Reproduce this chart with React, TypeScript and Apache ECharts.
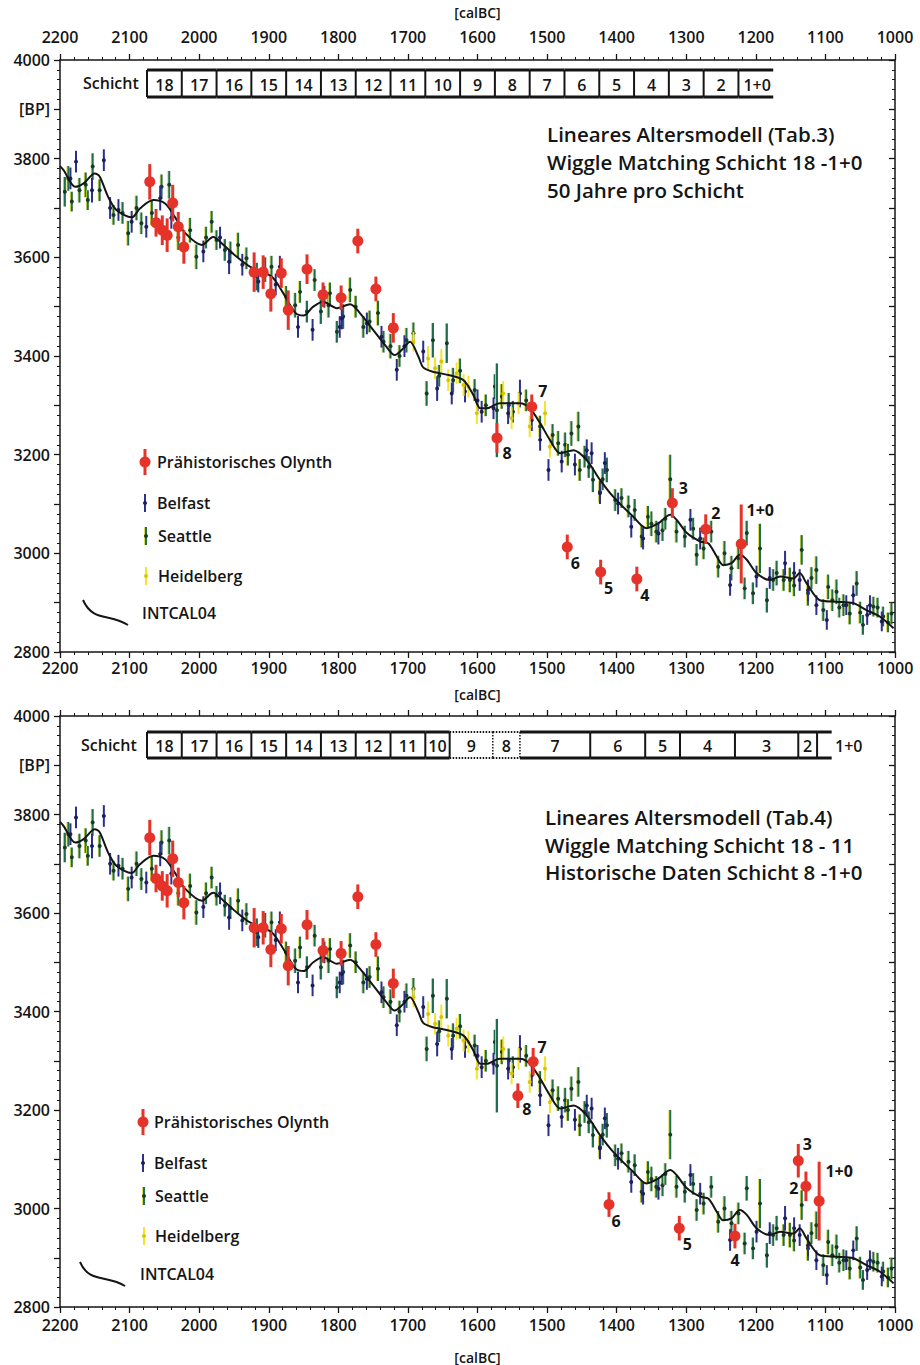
import React, { useEffect, useRef } from "react";
import * as echarts from "echarts";

// ---------------- DATA ----------------
const X_MIN = 1000;
const X_MAX = 2200;
const X_STEP = 100;
const Y_MIN = 2800;
const Y_MAX = 4000;
const Y_STEP = 100;
const Y_UNIT_AT = 3900; // where "[BP]" is written on the axis

const AXIS_NAME_X = "[calBC]";
const AXIS_NAME_Y = "[BP]";

// INTCAL04 calibration curve [calBC, BP]
const INTCAL04: [number, number][] = [
  [2200, 3785], [2195, 3777], [2178, 3743], [2166, 3750], [2150, 3770], [2143, 3764],
  [2131, 3723], [2119, 3696], [2097, 3681], [2085, 3699], [2066, 3716], [2049, 3709],
  [2035, 3682], [2020, 3649], [1996, 3625], [1980, 3641], [1965, 3625], [1946, 3601],
  [1927, 3581], [1896, 3561], [1879, 3527], [1862, 3488], [1850, 3482], [1836, 3500],
  [1822, 3510], [1802, 3497], [1783, 3505], [1769, 3487], [1750, 3453], [1731, 3419],
  [1719, 3402], [1709, 3412], [1697, 3429], [1685, 3399], [1678, 3377], [1664, 3368],
  [1640, 3361], [1620, 3351], [1606, 3321], [1596, 3294], [1587, 3294], [1568, 3304],
  [1539, 3304], [1525, 3294], [1510, 3264], [1496, 3230], [1481, 3203], [1462, 3209],
  [1443, 3189], [1424, 3149], [1405, 3115], [1376, 3074], [1357, 3051], [1340, 3061],
  [1323, 3078], [1314, 3068], [1299, 3041], [1280, 3024], [1268, 3020], [1256, 2993],
  [1247, 2976], [1235, 2980], [1223, 2997], [1213, 2987], [1199, 2960], [1180, 2946],
  [1165, 2953], [1146, 2949], [1137, 2960], [1127, 2939], [1108, 2905], [1084, 2902],
  [1060, 2899], [1041, 2885], [1022, 2872], [1002, 2848],
];

// Calibration measurements [calBC, BP, ±error]
const SEATTLE: [number, number, number][] = [
  [2193, 3733, 30], [2183, 3713, 20], [2172, 3736, 25], [2163, 3747, 25], [2153, 3784, 27],
  [2143, 3736, 22], [2123, 3686, 20], [2102, 3649, 25], [2083, 3669, 22], [2054, 3743, 25],
  [2043, 3747, 28], [2013, 3655, 25], [2004, 3601, 25], [1982, 3672, 22], [1975, 3635, 20],
  [1963, 3615, 22], [1944, 3625, 25], [1932, 3598, 22], [1917, 3561, 28], [1896, 3581, 22],
  [1862, 3503, 25], [1834, 3554, 22], [1814, 3503, 25], [1802, 3449, 22], [1793, 3480, 25],
  [1845, 3490, 22], [1812, 3527, 22], [1783, 3534, 25], [1764, 3459, 22], [1743, 3487, 25],
  [1735, 3429, 22], [1702, 3432, 25], [1692, 3446, 22], [1673, 3324, 25], [1664, 3432, 35],
  [1644, 3426, 40], [1635, 3351, 25], [1604, 3331, 22], [1575, 3338, 25], [1572, 3290, 95],
  [1565, 3318, 25], [1549, 3287, 22], [1510, 3257, 22], [1484, 3223, 25], [1465, 3243, 25],
  [1455, 3257, 30], [1446, 3196, 22], [1434, 3149, 25], [1474, 3220, 25], [1453, 3169, 22],
  [1424, 3125, 22], [1414, 3169, 25], [1402, 3108, 22], [1393, 3112, 20], [1383, 3095, 22],
  [1374, 3088, 22], [1364, 3034, 22], [1355, 3074, 22], [1343, 3044, 22], [1334, 3047, 22],
  [1323, 3150, 50], [1314, 3044, 22], [1302, 3034, 22], [1285, 2997, 22], [1264, 3044, 22],
  [1254, 2973, 22], [1235, 2970, 25], [1216, 2929, 22], [1213, 3041, 25], [1204, 2919, 22],
  [1194, 3010, 50], [1184, 2905, 25], [1175, 2946, 22], [1160, 2946, 22], [1151, 2946, 25],
  [1134, 3007, 30], [1125, 2919, 25], [1113, 2966, 28], [1103, 2885, 22], [1096, 2932, 25],
  [1084, 2922, 25], [1074, 2895, 22], [1065, 2878, 22], [1055, 2939, 25], [1046, 2855, 20],
  [1031, 2892, 20], [1017, 2872, 20], [1005, 2878, 22],
  [2188, 3760, 25], [2160, 3716, 20], [2110, 3690, 22], [2090, 3700, 25], [2068, 3690, 25],
  [2030, 3640, 25], [1990, 3640, 22], [1955, 3610, 22], [1905, 3575, 25], [1875, 3520, 22],
  [1855, 3530, 22], [1825, 3490, 25], [1775, 3500, 22], [1755, 3470, 22], [1725, 3420, 25],
  [1712, 3400, 22], [1655, 3360, 22], [1625, 3370, 25], [1588, 3300, 22], [1555, 3300, 25],
  [1530, 3310, 22], [1492, 3240, 22], [1470, 3200, 22], [1440, 3175, 22], [1420, 3150, 22],
  [1350, 3060, 25], [1330, 3070, 22], [1290, 3050, 22], [1275, 3010, 22], [1245, 3000, 25],
  [1225, 2990, 22], [1170, 2960, 25], [1145, 2935, 22], [1120, 2950, 22], [1090, 2905, 22],
  [1080, 2890, 20], [1050, 2880, 22], [1025, 2890, 20], [1010, 2860, 20],
];

const BELFAST: [number, number, number][] = [
  [2177, 3794, 22], [2154, 3736, 25], [2137, 3797, 22], [2116, 3696, 22], [2097, 3672, 22],
  [2076, 3662, 22], [2056, 3720, 25], [1994, 3612, 22], [1957, 3591, 25], [1938, 3585, 22],
  [1915, 3551, 22], [1884, 3581, 22], [1858, 3459, 22], [1837, 3453, 22], [1798, 3459, 22],
  [1795, 3476, 22], [1759, 3466, 22], [1738, 3439, 22], [1716, 3372, 22], [1678, 3409, 22],
  [1658, 3334, 25], [1637, 3324, 22], [1618, 3328, 22], [1594, 3287, 22], [1577, 3294, 22],
  [1556, 3284, 22], [1539, 3324, 28], [1522, 3270, 22], [1498, 3169, 22], [1479, 3186, 22],
  [1443, 3209, 22], [1424, 3122, 22], [1436, 3203, 22], [1417, 3183, 22], [1398, 3101, 22],
  [1379, 3054, 22], [1362, 3030, 22], [1294, 3068, 22], [1237, 2936, 22], [1199, 2953, 22],
  [1158, 2980, 25], [1137, 2946, 22], [1113, 2895, 20], [1098, 2865, 20], [1060, 2915, 20],
  [1036, 2895, 20], [1019, 2862, 20],
  [2185, 3760, 22], [2128, 3700, 22], [2040, 3680, 22], [1970, 3640, 22], [1890, 3545, 22],
  [1820, 3520, 22], [1705, 3420, 22], [1600, 3310, 22], [1510, 3230, 22], [1460, 3180, 22],
  [1340, 3040, 22], [1280, 3030, 22], [1180, 2950, 22], [1145, 2960, 22], [1125, 2925, 22],
  [1070, 2895, 20], [1040, 2875, 20],
];

const HEIDELBERG: [number, number, number][] = [
  [1692, 3429, 20], [1671, 3395, 25], [1661, 3375, 22], [1652, 3389, 25], [1642, 3351, 22],
  [1630, 3365, 22], [1620, 3341, 22], [1613, 3338, 22], [1601, 3284, 22], [1563, 3324, 25],
  [1551, 3274, 22], [1541, 3304, 22], [1525, 3257, 22], [1503, 3284, 25], [1496, 3216, 22],
];

// Prähistorisches Olynth samples (layers 18 - 9, identical in both panels)
const OLYNTH_OLD_YEAR = [2071, 2062, 2053, 2046, 2038, 2030, 2022, 1921, 1908, 1897, 1882, 1872, 1845, 1822, 1796, 1772, 1746, 1721];
const OLYNTH_OLD_BP = [3753, 3670, 3655, 3645, 3710, 3662, 3621, 3570, 3570, 3526, 3568, 3493, 3576, 3524, 3518, 3633, 3536, 3457];
const OLYNTH_OLD_ERR = [36, 28, 30, 34, 37, 30, 34, 40, 34, 36, 30, 40, 30, 25, 25, 25, 25, 30];

// layers 8 .. 1+0
const OLYNTH_LAYER_LABELS = ["8", "7", "6", "5", "4", "3", "2", "1+0"];
const OLYNTH_TOP_YEAR = [1572, 1522, 1471, 1423, 1371, 1320, 1272, 1221];
const OLYNTH_TOP_BP = [3234, 3297, 3013, 2962, 2948, 3102, 3049, 3019];
const OLYNTH_TOP_ERR = [30, 25, 25, 25, 25, 30, 30, 80];
const OLYNTH_BOT_YEAR = [1542, 1520, 1411, 1310, 1230, 1139, 1128, 1109];
const OLYNTH_BOT_BP = [3229, 3298, 3008, 2960, 2944, 3097, 3045, 3015];
const OLYNTH_BOT_ERR = [25, 28, 25, 25, 25, 34, 30, 80];

// Schicht (layer) scheme
const LAYERS = ["18", "17", "16", "15", "14", "13", "12", "11", "10", "9", "8", "7", "6", "5", "4", "3", "2", "1+0"];
const LAYER_BOUNDS_TOP = [2075, 2025, 1975, 1925, 1875, 1825, 1775, 1725, 1675, 1625, 1575, 1525, 1475, 1425, 1375, 1325, 1275, 1225, 1175];
const LAYER_BOUNDS_BOT = [2075, 2025, 1975, 1925, 1875, 1825, 1775, 1725, 1675, 1640, 1578, 1539, 1438, 1359, 1309, 1230, 1139, 1112, 1091];
const DOTTED_LAYERS_BOT = ["9", "8"];

const TITLE_TOP = ["Lineares Altersmodell (Tab.3)", "Wiggle Matching Schicht 18 -1+0", "50 Jahre pro Schicht"];
const TITLE_BOT = ["Lineares Altersmodell (Tab.4)", "Wiggle Matching Schicht 18 - 11", "Historische Daten Schicht 8 -1+0"];
const LEGEND_NAMES = ["Prähistorisches Olynth", "Belfast", "Seattle", "Heidelberg", "INTCAL04"];
const LAYER_WORD = "Schicht";

// ---------------- STYLE / LAYOUT ----------------
const FONT = "'Open Sans', 'Noto Sans', 'DejaVu Sans', sans-serif";
const INK = "#151515";
const RED = "#e5332a";
const SEATTLE_BAR = "#1f6e4c";
const SEATTLE_DOT = "#163a2b";
const BELFAST_BAR = "#2d3088";
const BELFAST_DOT = "#1d1e5a";
const HEID_BAR = "#f2e52a";
const HEID_DOT = "#dcc400";
const FRINGE = "#d6d640";

const W = 920;
const H = 1365;
const GRID_LEFT = 60;
const GRID_RIGHT = 25;
const G1_TOP = 60;
const G1_H = 592;
const G2_TOP = 716;
const G2_H = 593;

const BOX_TOP = { offset: 10, h: 27, lastLabelDx: 5 };
const BOX_BOT = { offset: 16, h: 26, lastLabelDx: 18 };

const LABEL_OFF_TOP: Record<string, [number, number]> = {
  "8": [10, 15], "7": [11, -16], "6": [8, 16], "5": [8, 16], "4": [8, 16], "3": [11, -15], "2": [10, -16], "1+0": [19, -34],
};
const LABEL_OFF_BOT: Record<string, [number, number]> = {
  "8": [9, 13], "7": [9, -15], "6": [7, 16], "5": [8, 16], "4": [0, 24], "3": [9, -17], "2": [-12, 2], "1+0": [20, -30],
};

function xAxis(grid: number, position: string, showLabel: boolean, margin: number, name: string, nameGap: number) {
  return {
    type: "value",
    gridIndex: grid,
    position,
    min: X_MIN,
    max: X_MAX,
    interval: X_STEP,
    inverse: true,
    axisLine: { show: true, onZero: false, lineStyle: { color: INK, width: 1.5 } },
    axisTick: { show: true, inside: false, length: 6, lineStyle: { color: INK, width: 1.3 } },
    minorTick: { show: true, splitNumber: 5, length: 3, lineStyle: { color: INK, width: 1 } },
    splitLine: { show: false },
    minorSplitLine: { show: false },
    axisLabel: {
      show: showLabel,
      margin,
      color: INK,
      fontFamily: FONT,
      fontSize: 16,
      fontWeight: 600,
      formatter: (v: number) => String(v),
    },
    name,
    nameLocation: "middle",
    nameGap,
    nameTextStyle: { color: INK, fontFamily: FONT, fontSize: 14, fontWeight: 600 },
  };
}

function yAxis(grid: number, position: string, showLabel: boolean) {
  return {
    type: "value",
    gridIndex: grid,
    position,
    min: Y_MIN,
    max: Y_MAX,
    interval: Y_STEP,
    axisLine: { show: true, onZero: false, lineStyle: { color: INK, width: 1.5 } },
    axisTick: { show: true, inside: position === "right", length: 6, lineStyle: { color: INK, width: 1.3 } },
    minorTick: { show: true, splitNumber: 5, length: 3, lineStyle: { color: INK, width: 1 } },
    splitLine: { show: false },
    minorSplitLine: { show: false },
    axisLabel: {
      show: showLabel,
      margin: 10,
      color: INK,
      fontFamily: FONT,
      fontSize: 16,
      fontWeight: 600,
      formatter: (v: number) => (v === Y_UNIT_AT ? AXIS_NAME_Y : v % 200 === 0 ? String(v) : ""),
    },
  };
}

function errSeries(data: [number, number, number][], ax: number, bar: string, dot: string, lw: number, r: number, fringe?: string) {
  return {
    type: "custom",
    xAxisIndex: ax,
    yAxisIndex: ax,
    data,
    encode: { x: 0, y: 1 },
    silent: true,
    z: 2,
    renderItem: (_p: any, api: any) => {
      const x = api.value(0);
      const y = api.value(1);
      const e = api.value(2);
      const c = api.coord([x, y]);
      const t = api.coord([x, y + e]);
      const b = api.coord([x, y - e]);
      const children: any[] = [];
      if (fringe) {
        children.push({ type: "line", shape: { x1: c[0] - 1.3, y1: t[1], x2: c[0] - 1.3, y2: b[1] }, style: { stroke: fringe, lineWidth: 1.1 } });
      }
      children.push({ type: "line", shape: { x1: c[0], y1: t[1], x2: c[0], y2: b[1] }, style: { stroke: bar, lineWidth: lw } });
      children.push({ type: "circle", shape: { cx: c[0], cy: c[1], r }, style: { fill: dot } });
      return { type: "group", children };
    },
  };
}

function olynthSeries(years: number[], bps: number[], errs: number[], labels: string[], offs: Record<string, [number, number]>, ax: number) {
  const data = years.map((y, i) => [y, bps[i], errs[i]]);
  return {
    type: "custom",
    xAxisIndex: ax,
    yAxisIndex: ax,
    data,
    encode: { x: 0, y: 1 },
    silent: true,
    z: 5,
    renderItem: (p: any, api: any) => {
      const x = api.value(0);
      const y = api.value(1);
      const e = api.value(2);
      const c = api.coord([x, y]);
      const t = api.coord([x, y + e]);
      const b = api.coord([x, y - e]);
      const children: any[] = [
        { type: "line", shape: { x1: c[0], y1: t[1], x2: c[0], y2: b[1] }, style: { stroke: RED, lineWidth: 3 } },
        { type: "circle", shape: { cx: c[0], cy: c[1], r: 5.5 }, style: { fill: RED } },
      ];
      const lab = labels[p.dataIndex];
      if (lab) {
        const o = offs[lab] || [10, 15];
        children.push({
          type: "text",
          x: c[0] + o[0],
          y: c[1] + o[1],
          style: { text: lab, fill: INK, fontFamily: FONT, fontSize: 16, fontWeight: 700, textAlign: "center", textVerticalAlign: "middle" },
        });
      }
      return { type: "group", children };
    },
  };
}

function layerSeries(bounds: number[], dotted: string[], box: { offset: number; h: number; lastLabelDx: number }, ax: number) {
  const data = LAYERS.map((_, i) => [bounds[i], bounds[i + 1]]);
  return {
    type: "custom",
    xAxisIndex: ax,
    yAxisIndex: ax,
    data,
    encode: { x: [0, 1] },
    silent: true,
    z: 6,
    renderItem: (p: any, api: any) => {
      const i = p.dataIndex;
      const s = api.coord([api.value(0), Y_MAX]);
      const e = api.coord([api.value(1), Y_MAX]);
      const y0 = s[1] + box.offset;
      const y1 = y0 + box.h;
      const name = LAYERS[i];
      const isDot = dotted.indexOf(name) >= 0;
      const prevDot = i > 0 && dotted.indexOf(LAYERS[i - 1]) >= 0;
      const hStyle = isDot
        ? { stroke: INK, lineWidth: 2, lineDash: [1.5, 1.5] }
        : { stroke: INK, lineWidth: 3 };
      const vStyle = prevDot
        ? { stroke: INK, lineWidth: 1.5, lineDash: [1.5, 1.5] }
        : { stroke: INK, lineWidth: 2 };
      const isLast = i === LAYERS.length - 1;
      const children: any[] = [
        { type: "line", shape: { x1: s[0], y1: y0, x2: e[0], y2: y0 }, style: hStyle },
        { type: "line", shape: { x1: s[0], y1: y1, x2: e[0], y2: y1 }, style: hStyle },
        { type: "line", shape: { x1: s[0], y1: y0, x2: s[0], y2: y1 }, style: vStyle },
      ];
      children.push({
        type: "text",
        x: isLast ? s[0] + box.lastLabelDx : (s[0] + e[0]) / 2,
        y: (y0 + y1) / 2 + 1,
        style: {
          text: name,
          fill: INK,
          fontFamily: FONT,
          fontSize: 16,
          fontWeight: 600,
          textAlign: isLast ? "left" : "center",
          textVerticalAlign: "middle",
        },
      });
      return { type: "group", children };
    },
  };
}

function textEl(x: number, y: number, text: string, size: number, weight = 600) {
  return {
    type: "text",
    x,
    y,
    silent: true,
    style: { text, fill: INK, fontFamily: FONT, fontSize: size, fontWeight: weight, textAlign: "left", textVerticalAlign: "middle" },
  };
}

function errIcon(x: number, y: number, half: number, bar: string, dot: string, lw: number, r: number, fringe?: string) {
  const kids: any[] = [];
  if (fringe) kids.push({ type: "line", shape: { x1: x - 1.3, y1: y - half, x2: x - 1.3, y2: y + half }, style: { stroke: fringe, lineWidth: 1.1 } });
  kids.push({ type: "line", shape: { x1: x, y1: y - half, x2: x, y2: y + half }, style: { stroke: bar, lineWidth: lw } });
  kids.push({ type: "circle", shape: { cx: x, cy: y, r }, style: { fill: dot } });
  return { type: "group", silent: true, children: kids };
}

function legend(ix: number, tx: number, rows: number[], curve: [number, number, number, number], curveTextX: number) {
  const [redY, belY, seaY, heiY] = rows;
  const [cx0, cy0, cx1, cy1] = curve;
  return [
    errIcon(ix, redY, 13, RED, RED, 3, 5.5),
    textEl(tx, redY, LEGEND_NAMES[0], 16),
    errIcon(ix, belY, 9, BELFAST_BAR, BELFAST_DOT, 2, 2),
    textEl(tx, belY, LEGEND_NAMES[1], 16),
    errIcon(ix + 1, seaY, 9, SEATTLE_BAR, SEATTLE_DOT, 2, 2, FRINGE),
    textEl(tx + 1, seaY, LEGEND_NAMES[2], 16),
    errIcon(ix + 1, heiY, 9, HEID_BAR, HEID_DOT, 2, 2),
    textEl(tx + 1, heiY, LEGEND_NAMES[3], 16),
    {
      type: "bezierCurve",
      silent: true,
      shape: { x1: cx0, y1: cy0, cpx1: cx0 + 10, cpy1: cy0 + 22, cpx2: cx0 + 25, cpy2: cy1 - 12, x2: cx1, y2: cy1 },
      style: { stroke: INK, lineWidth: 2, fill: null },
    },
    textEl(curveTextX, (cy0 + cy1) / 2, LEGEND_NAMES[4], 16),
  ];
}

function buildOption() {
  const curveSeries = (ax: number) => ({
    type: "line",
    xAxisIndex: ax,
    yAxisIndex: ax,
    data: INTCAL04,
    smooth: 0.3,
    symbol: "none",
    silent: true,
    z: 4,
    lineStyle: { color: INK, width: 2 },
  });

  const blank = OLYNTH_OLD_YEAR.map(() => "");
  const topYears = OLYNTH_OLD_YEAR.concat(OLYNTH_TOP_YEAR);
  const topBp = OLYNTH_OLD_BP.concat(OLYNTH_TOP_BP);
  const topErr = OLYNTH_OLD_ERR.concat(OLYNTH_TOP_ERR);
  const botYears = OLYNTH_OLD_YEAR.concat(OLYNTH_BOT_YEAR);
  const botBp = OLYNTH_OLD_BP.concat(OLYNTH_BOT_BP);
  const botErr = OLYNTH_OLD_ERR.concat(OLYNTH_BOT_ERR);
  const labels = blank.concat(OLYNTH_LAYER_LABELS);

  const series: any[] = [];
  [0, 1].forEach((ax) => {
    series.push(errSeries(SEATTLE, ax, SEATTLE_BAR, SEATTLE_DOT, 2, 2, FRINGE));
    series.push(errSeries(BELFAST, ax, BELFAST_BAR, BELFAST_DOT, 2, 2));
    series.push(errSeries(HEIDELBERG, ax, HEID_BAR, HEID_DOT, 2, 2));
    series.push(curveSeries(ax));
  });
  series.push(olynthSeries(topYears, topBp, topErr, labels, LABEL_OFF_TOP, 0));
  series.push(olynthSeries(botYears, botBp, botErr, labels, LABEL_OFF_BOT, 1));
  series.push(layerSeries(LAYER_BOUNDS_TOP, [], BOX_TOP, 0));
  series.push(layerSeries(LAYER_BOUNDS_BOT, DOTTED_LAYERS_BOT, BOX_BOT, 1));

  const graphic: any[] = [
    textEl(83, 83, LAYER_WORD, 16),
    textEl(81, 745, LAYER_WORD, 16),
    textEl(547, 134, TITLE_TOP[0], 20.5),
    textEl(547, 162, TITLE_TOP[1], 20.5),
    textEl(547, 190, TITLE_TOP[2], 20.5),
    textEl(545, 817, TITLE_BOT[0], 20.5),
    textEl(545, 845, TITLE_BOT[1], 20.5),
    textEl(545, 872, TITLE_BOT[2], 20.5),
    ...legend(145, 157, [462, 503, 536, 576], [83, 600, 128, 625], 142),
    ...legend(143, 154, [1122, 1163, 1196, 1236], [80, 1262, 125, 1286], 140),
  ];

  return {
    animation: false,
    backgroundColor: "#ffffff",
    grid: [
      { left: GRID_LEFT, right: GRID_RIGHT, top: G1_TOP, height: G1_H },
      { left: GRID_LEFT, right: GRID_RIGHT, top: G2_TOP, height: G2_H },
    ],
    xAxis: [
      xAxis(0, "bottom", true, 8, AXIS_NAME_X, 35),
      xAxis(1, "bottom", true, 10, AXIS_NAME_X, 43),
      xAxis(0, "top", true, 15, AXIS_NAME_X, 41),
      xAxis(1, "top", false, 8, "", 0),
    ],
    yAxis: [
      yAxis(0, "left", true),
      yAxis(1, "left", true),
      yAxis(0, "right", false),
      yAxis(1, "right", false),
    ],
    series,
    graphic,
  };
}

export default function App() {
  const ref = useRef<HTMLDivElement>(null);
  useEffect(() => {
    if (!ref.current) return;
    const chart = echarts.init(ref.current, undefined, { renderer: "svg", width: W, height: H });
    chart.setOption(buildOption() as any);
    return () => chart.dispose();
  }, []);
  return <div ref={ref} style={{ position: "absolute", left: 0, top: 0, width: W, height: H, background: "#fff" }} />;
}
